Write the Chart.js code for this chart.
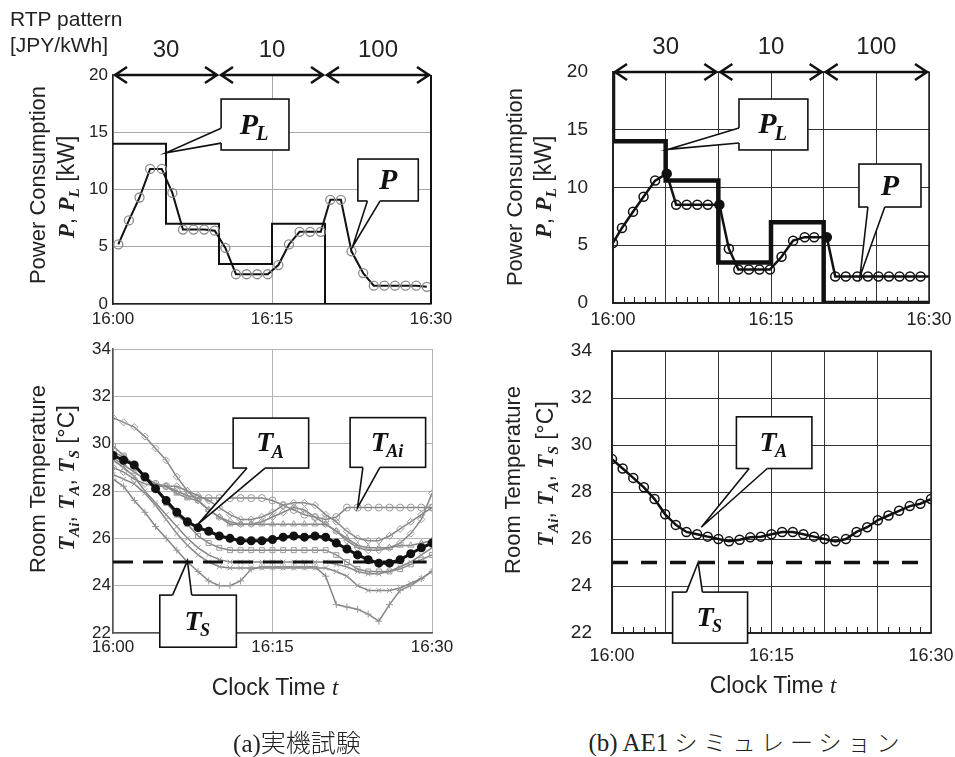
<!DOCTYPE html>
<html>
<head>
<meta charset="utf-8">
<script src="https://cdn.jsdelivr.net/npm/chart.js@4.4.1/dist/chart.umd.min.js"></script>
<style>
  body { margin: 0; background: #fff; }
  #fig { position: relative; width: 955px; height: 757px; overflow: hidden; font-family: "Liberation Sans", Arial, sans-serif; color: #222; }
  .box { position: absolute; }
  .txt { position: absolute; white-space: nowrap; line-height: 1; }
  .rot { transform: translate(-50%, -50%) rotate(-90deg); }
  .ctr { transform: translate(-50%, -50%); }
  .lft { transform: translateY(-50%); }
  .v { font-family: "Liberation Serif", serif; font-weight: bold; font-style: italic; }
  .v sub { font-size: 0.66em; vertical-align: -0.28em; }
  .it { font-family: "Liberation Serif", serif; font-style: italic; }
  .cap { font-family: "Liberation Serif", "Noto Sans CJK JP", serif; font-size: 25px; }
  .kana { font-family: "Noto Sans CJK JP", sans-serif; font-weight: 300; letter-spacing: 6px; font-size: 23px; }
</style>
</head>
<body>
<div id="fig">
  <div class="box" style="left:0;top:0;width:470px;height:335px"><canvas id="powerA" width="470" height="335"></canvas></div>
  <div class="box" style="left:480px;top:0;width:480px;height:340px"><canvas id="powerB" width="480" height="340"></canvas></div>
  <div class="box" style="left:0;top:330px;width:470px;height:345px"><canvas id="tempA" width="470" height="345"></canvas></div>
  <div class="box" style="left:480px;top:319px;width:486px;height:356px"><canvas id="tempB" width="486" height="356"></canvas></div>

  <div class="txt lft" style="left:10px;top:18px;font-size:21px">RTP pattern</div>
  <div class="txt lft" style="left:10px;top:44px;font-size:21px">[JPY/kWh]</div>

  <div class="txt rot" style="left:38px;top:185px;font-size:22px">Power Consumption</div>
  <div class="txt rot" style="left:68px;top:187px;font-size:23px"><span class="v">P</span>, <span class="v">P<sub>L</sub></span> [kW]</div>
  <div class="txt rot" style="left:515px;top:187px;font-size:22px">Power Consumption</div>
  <div class="txt rot" style="left:545px;top:187px;font-size:23px"><span class="v">P</span>, <span class="v">P<sub>L</sub></span> [kW]</div>

  <div class="txt rot" style="left:38px;top:479px;font-size:22px">Room Temperature</div>
  <div class="txt rot" style="left:68px;top:478px;font-size:23px"><span class="v">T<sub>Ai</sub></span>, <span class="v">T<sub>A</sub></span>, <span class="v">T<sub>S</sub></span> [°C]</div>
  <div class="txt rot" style="left:513px;top:480px;font-size:22px">Room Temperature</div>
  <div class="txt rot" style="left:547px;top:474px;font-size:23px"><span class="v">T<sub>Ai</sub></span>, <span class="v">T<sub>A</sub></span>, <span class="v">T<sub>S</sub></span> [°C]</div>

  <div class="txt ctr" style="left:275px;top:687px;font-size:23px">Clock Time <span class="it">t</span></div>
  <div class="txt ctr" style="left:773px;top:685px;font-size:23px">Clock Time <span class="it">t</span></div>

  <div class="txt ctr cap" style="left:297px;top:742px">(a)<span style="font-family:'Noto Sans CJK JP';font-weight:300">実機試験</span></div>
  <div class="txt ctr cap" style="left:747px;top:742px">(b) AE1 <span class="kana">シミュレーション</span></div>
</div>

<script>
// 横軸: 16:00 からの経過時間 [分]
const xTickValues = [0, 15, 30];
const xTickLabels = ['16:00', '16:15', '16:30'];
const minorTickMinutes = [1, 2, 3, 4, 6, 7, 8, 9, 11, 12, 13, 14, 16, 17, 18, 19, 21, 22, 23, 24, 26, 27, 28, 29];

// RTP 料金パターン [JPY/kWh]
const rtpBounds = [0, 10, 20, 30];
const rtpPrices = ['30', '10', '100'];

// (a) 実機試験 - 消費電力 P と上限 PL [kW]
const timeA_P = [0.5, 1.5, 2.5, 3.5, 4.6, 5.6, 6.6, 7.6, 8.6, 9.6, 10.6, 11.6, 12.6, 13.6, 14.6,
                 15.6, 16.6, 17.6, 18.6, 19.6, 20.5, 21.5, 22.5, 23.6, 24.6, 25.6, 26.6, 27.6, 28.6, 29.6];
const powerA = [5.2, 7.3, 9.3, 11.8, 11.8, 9.7, 6.5, 6.5, 6.5, 6.4, 4.9, 2.6, 2.6, 2.6, 2.6,
                3.4, 5.2, 6.3, 6.3, 6.3, 9.1, 9.1, 4.6, 2.7, 1.6, 1.6, 1.6, 1.6, 1.6, 1.5];
const timeA_PL = [0, 5, 10, 15, 20, 30];
const limitA = [14, 7, 3.5, 7, 0, 0];

// (b) シミュレーション - 消費電力 P と上限 PL [kW]
const timeB_P = [0, 0.85, 1.9, 2.9, 4, 5.1, 6, 7, 8, 9, 10.1, 11, 11.9, 12.9, 13.9, 14.9,
                 16, 17.1, 18.2, 19.1, 20.3, 21.1, 22.1, 23.2, 24.2, 25.2, 26.2, 27.2, 28.2, 29.2, 30];
const powerB = [5.2, 6.5, 7.9, 9.2, 10.6, 11.2, 8.5, 8.5, 8.5, 8.5, 8.5, 4.7, 2.9, 2.9, 2.9, 2.9,
                4.0, 5.4, 5.7, 5.7, 5.7, 2.3, 2.3, 2.3, 2.3, 2.3, 2.3, 2.3, 2.3, 2.3, 2.3];
const filledB = [5, 10, 20];
const timeB_PL = [0, 0, 5, 10, 15, 20, 30];
const limitB = [20, 14, 10.6, 3.5, 7, 0, 0];

// 室温 [°C] (1分ごと)
const minutes = [0, 1, 2, 3, 4, 5, 6, 7, 8, 9, 10, 11, 12, 13, 14, 15, 16, 17, 18, 19, 20,
                 21, 22, 23, 24, 25, 26, 27, 28, 29, 30];
const tempAvgA = [29.5, 29.3, 29.1, 28.6, 28.1, 27.6, 27.1, 26.7, 26.45, 26.3, 26.1, 26.0, 25.9, 25.9, 25.9, 25.95,
                  26.05, 26.1, 26.05, 26.1, 26.05, 25.8, 25.55, 25.3, 25.1, 24.95, 24.95, 25.1, 25.35, 25.6, 25.8];
const tempAvgB = [29.4, 29.0, 28.6, 28.2, 27.7, 27.05, 26.6, 26.3, 26.2, 26.1, 26.0, 25.9, 25.97, 26.07, 26.1, 26.2,
                  26.3, 26.3, 26.2, 26.1, 26.0, 25.9, 26.0, 26.3, 26.5, 26.8, 27.0, 27.2, 27.4, 27.5, 27.7];
const setTime = [0, 29.5];
const setTimeB = [0, 29];
const setTemp = [25, 25];

// 各室の室温 TAi (実機)
const room1 = [31.1, 30.9, 30.7, 30.3, 29.8, 29.3, 28.6, 28.0, 27.8, 27.6, 27.3, 27.0, 26.8, 26.8, 26.9, 27.1,
               27.4, 27.5, 27.5, 27.4, 27.0, 26.7, 26.3, 26.0, 25.9, 25.9, 26.1, 26.4, 26.7, 27.0, 27.3];
const room2 = [29.7, 29.4, 29.0, 28.6, 28.3, 28.2, 28.0, 27.8, 27.7, 27.7, 27.7, 27.7, 27.7, 27.7, 27.7, 27.6,
               27.4, 27.2, 27.0, 26.9, 26.8, 26.9, 27.3, 27.3, 27.3, 27.3, 27.3, 27.3, 27.3, 27.3, 27.3];
const room3 = [29.4, 29.1, 28.8, 28.5, 28.3, 28.2, 27.9, 27.7, 27.6, 27.2, 26.9, 26.6, 26.6, 26.6, 26.6, 26.6,
               26.6, 26.6, 26.6, 26.6, 26.6, 26.3, 26.0, 25.7, 25.6, 25.6, 25.6, 25.7, 25.7, 25.8, 25.9];
const room4 = [29.9, 29.5, 29.1, 28.6, 28.1, 27.5, 27.0, 26.6, 26.1, 25.8, 25.6, 25.5, 25.5, 25.5, 25.5, 25.5,
               25.5, 25.5, 25.5, 25.5, 25.5, 25.3, 25.0, 24.7, 24.6, 24.6, 24.6, 24.7, 24.9, 25.1, 25.3];
const room5 = [28.7, 28.5, 28.3, 27.9, 27.4, 26.8, 26.2, 25.7, 25.3, 25.0, 24.8, 24.75, 24.75, 24.75, 24.75, 24.75,
               24.75, 24.75, 24.75, 24.75, 24.75, 24.6, 24.4, 24.0, 23.8, 23.8, 23.8, 23.9, 24.1, 24.3, 24.6];
const room6 = [28.5, 28.2, 27.6, 27.1, 26.5, 26.0, 25.5, 25.0, 24.6, 24.2, 24.0, 24.0, 24.2, 24.7, 24.8, 24.8,
               24.8, 24.8, 24.8, 24.8, 24.4, 23.2, 23.1, 23.0, 22.8, 22.5, 23.2, 23.8, 24.0, 24.3, 24.6];
const room7 = [29.0, 28.8, 28.5, 28.3, 28.2, 28.2, 28.2, 28.0, 27.6, 27.2, 26.9, 26.7, 26.6, 26.6, 26.7, 26.9,
               27.1, 27.3, 27.2, 26.9, 26.6, 26.3, 25.9, 25.6, 25.5, 25.5, 25.6, 25.8, 26.2, 26.8, 27.9];
const room8 = [29.3, 29.0, 28.6, 28.0, 27.5, 27.0, 26.5, 26.0, 25.6, 25.3, 25.1, 25.0, 25.0, 25.0, 25.0, 25.0,
               25.0, 25.0, 25.0, 25.0, 25.0, 24.9, 24.8, 24.6, 24.5, 24.5, 24.6, 24.8, 25.0, 25.3, 25.6];
const roomSeries = [room1, room2, room3, room4, room5, room6, room7, room8];
const roomMarkers = ['rectRot', 'circle', 'triangle', 'rect', 'crossRot', 'cross', 'rectRot', 'crossRot'];

Chart.defaults.font.family = '"Liberation Sans", Arial, sans-serif';
Chart.defaults.color = '#222';

function pts(xs, ys) {
    return xs.map((x, i) => ({ x: x, y: ys[i] }));
}

function timeLabel(v) {
    const i = xTickValues.indexOf(v);
    return i >= 0 ? xTickLabels[i] : '';
}

function drawCallout(ctx, xs, ys, c, size) {
    const px = v => xs.getPixelForValue(v);
    const py = v => ys.getPixelForValue(v);
    const L = px(c.box[0]), R = px(c.box[1]), T = py(c.box[2]), B = py(c.box[3]);
    const b1 = [px(c.base[0][0]), py(c.base[0][1])];
    const b2 = [px(c.base[1][0]), py(c.base[1][1])];
    const tip = [px(c.tip[0]), py(c.tip[1])];

    ctx.lineWidth = 1.6;
    ctx.strokeStyle = '#111';
    ctx.fillStyle = '#fff';
    ctx.fillRect(L, T, R - L, B - T);
    ctx.strokeRect(L, T, R - L, B - T);

    ctx.beginPath();
    ctx.moveTo(b1[0], b1[1]);
    ctx.lineTo(tip[0], tip[1]);
    ctx.lineTo(b2[0], b2[1]);
    ctx.closePath();
    ctx.fill();
    ctx.save();
    ctx.strokeStyle = '#fff';
    ctx.lineWidth = 3;
    ctx.beginPath();
    ctx.moveTo(b1[0], b1[1]);
    ctx.lineTo(b2[0], b2[1]);
    ctx.stroke();
    ctx.restore();
    ctx.beginPath();
    ctx.moveTo(b1[0], b1[1]);
    ctx.lineTo(tip[0], tip[1]);
    ctx.lineTo(b2[0], b2[1]);
    ctx.stroke();

    const mainFont = 'italic bold ' + size + 'px "Liberation Serif"';
    const subFont = 'italic bold ' + Math.round(size * 0.66) + 'px "Liberation Serif"';
    ctx.font = mainFont;
    const w1 = ctx.measureText(c.label).width;
    ctx.font = subFont;
    const w2 = c.sub ? ctx.measureText(c.sub).width : 0;
    const x0 = (L + R) / 2 - (w1 + w2) / 2;
    const base = (T + B) / 2 + size * 0.3;
    ctx.fillStyle = '#111';
    ctx.textAlign = 'left';
    ctx.textBaseline = 'alphabetic';
    ctx.font = mainFont;
    ctx.fillText(c.label, x0, base);
    if (c.sub) {
        ctx.font = subFont;
        ctx.fillText(c.sub, x0 + w1 - size * 0.06, base + size * 0.22);
    }
}

const extras = {
    id: 'extras',
    afterDatasetsDraw(chart, args, opts) {
        const ctx = chart.ctx;
        const xs = chart.scales.x, ys = chart.scales.y;
        const area = chart.chartArea;
        ctx.save();
        if (opts.minorTicks) {
            ctx.strokeStyle = '#222';
            ctx.lineWidth = 1;
            ctx.beginPath();
            minorTickMinutes.forEach(m => {
                const x = Math.round(xs.getPixelForValue(m)) + 0.5;
                ctx.moveTo(x, area.bottom);
                ctx.lineTo(x, area.bottom - 6);
            });
            ctx.stroke();
        }
        if (opts.frame) {
            ctx.strokeStyle = opts.frame;
            ctx.lineWidth = 1.5;
            ctx.strokeRect(area.left, area.top, area.right - area.left, area.bottom - area.top);
        }
        if (opts.frameRight) {
            ctx.strokeStyle = '#111';
            ctx.lineWidth = 2;
            ctx.beginPath();
            ctx.moveTo(area.right, area.top);
            ctx.lineTo(area.right, area.bottom);
            ctx.stroke();
        }
        if (opts.rtp) {
            const y = ys.getPixelForValue(ys.max);
            ctx.strokeStyle = '#111';
            ctx.fillStyle = '#222';
            ctx.lineWidth = 2.5;
            ctx.font = '24px "Liberation Sans"';
            ctx.textAlign = 'center';
            ctx.textBaseline = 'middle';
            for (let i = 0; i < rtpPrices.length; i++) {
                const x0 = xs.getPixelForValue(rtpBounds[i]);
                const x1 = xs.getPixelForValue(rtpBounds[i + 1]);
                ctx.beginPath();
                ctx.moveTo(x0 + 1, y);
                ctx.lineTo(x1 - 1, y);
                ctx.moveTo(x0 + 14, y - 8);
                ctx.lineTo(x0 + 2, y);
                ctx.lineTo(x0 + 14, y + 8);
                ctx.moveTo(x1 - 14, y - 8);
                ctx.lineTo(x1 - 2, y);
                ctx.lineTo(x1 - 14, y + 8);
                ctx.stroke();
                ctx.fillText(rtpPrices[i], (x0 + x1) / 2, y - 25);
            }
        }
        (opts.callouts || []).forEach(c => drawCallout(ctx, xs, ys, c, opts.calloutSize || 30));
        ctx.restore();
    }
};

function baseOptions(cfg) {
    return {
        responsive: false,
        animation: false,
        events: [],
        layout: { padding: cfg.padding },
        plugins: {
            legend: { display: false },
            tooltip: { enabled: false },
            extras: cfg.extras
        },
        scales: {
            x: {
                type: 'linear', min: 0, max: 30,
                afterFit: s => { s.height = cfg.xHeight; },
                ticks: {
                    stepSize: cfg.xStep, autoSkip: false, maxRotation: 0,
                    callback: timeLabel,
                    font: { size: cfg.xFont }, color: '#222', padding: cfg.xPad
                },
                grid: { color: cfg.grid, lineWidth: 1, drawTicks: false },
                border: { display: true, color: cfg.axis, width: 1.5 }
            },
            y: {
                min: cfg.yMin, max: cfg.yMax,
                afterFit: s => { s.width = cfg.yWidth; },
                ticks: {
                    stepSize: cfg.yStep,
                    font: { size: cfg.yFont }, color: '#222', padding: cfg.yPad
                },
                grid: { color: cfg.grid, lineWidth: 1, drawTicks: false },
                border: { display: true, color: cfg.axis, width: 1.5 }
            }
        }
    };
}

// (a) 消費電力
new Chart(document.getElementById('powerA'), {
    type: 'line',
    data: {
        datasets: [
            {
                data: pts(timeA_P, powerA), borderColor: '#111', borderWidth: 2,
                pointRadius: 4.5, pointBorderColor: '#8a8a8a', pointBorderWidth: 1.3,
                pointBackgroundColor: 'rgba(255,255,255,0)'
            },
            { data: pts(timeA_PL, limitA), stepped: true, borderColor: '#111', borderWidth: 2, pointRadius: 0 }
        ]
    },
    options: baseOptions({
        padding: { top: 75, right: 39, left: 0, bottom: 0 },
        xHeight: 31, yWidth: 113, xStep: 15, yStep: 5, yMin: 0, yMax: 20,
        xFont: 17, yFont: 17, xPad: 5, yPad: 5, grid: '#a8a8a8', axis: '#222',
        extras: {
            rtp: true, frameRight: true, calloutSize: 30,
            callouts: [
                { label: 'P', sub: 'L', box: [10.2, 16.6, 17.9, 13.45], base: [[10.2, 15.35], [10.2, 14.05]], tip: [5.0, 13.2] },
                { label: 'P', box: [23.1, 28.8, 12.66, 9.0], base: [[24.0, 9.0], [25.2, 9.0]], tip: [22.6, 5.0] }
            ]
        }
    }),
    plugins: [extras]
});

// (b) 消費電力
new Chart(document.getElementById('powerB'), {
    type: 'line',
    data: {
        datasets: [
            {
                data: pts(timeB_P, powerB), borderColor: '#111', borderWidth: 2.5,
                pointRadius: ctx => ctx.dataIndex === timeB_P.length - 1 ? 0 : 4.5,
                pointBorderColor: '#111', pointBorderWidth: 1.5,
                pointBackgroundColor: ctx => filledB.includes(ctx.dataIndex) ? '#111' : 'rgba(255,255,255,0)'
            },
            { data: pts(timeB_PL, limitB), stepped: true, borderColor: '#111', borderWidth: 4.5, pointRadius: 0 }
        ]
    },
    options: baseOptions({
        padding: { top: 72, right: 31, left: 0, bottom: 0 },
        xHeight: 37, yWidth: 133, xStep: 5, yStep: 5, yMin: 0, yMax: 20,
        xFont: 18, yFont: 19, xPad: 6, yPad: 25, grid: '#333', axis: '#222',
        extras: {
            rtp: true, minorTicks: true, frame: '#222', calloutSize: 30,
            callouts: [
                { label: 'P', sub: 'L', box: [11.96, 18.5, 17.66, 13.25], base: [[11.96, 15.15], [11.96, 13.85]], tip: [5.2, 13.3] },
                { label: 'P', box: [23.35, 29.24, 12.03, 8.31], base: [[24.2, 8.31], [25.8, 8.31]], tip: [23.45, 2.3] }
            ]
        }
    }),
    plugins: [extras]
});

// (a) 室温
const roomDatasets = roomSeries.map((vals, i) => ({
    data: pts(minutes, vals), borderColor: '#858585', borderWidth: 1.5,
    pointStyle: roomMarkers[i], pointRadius: 3.5, pointBorderColor: '#9a9a9a',
    pointBorderWidth: 1, pointBackgroundColor: 'rgba(255,255,255,0)'
}));

new Chart(document.getElementById('tempA'), {
    type: 'line',
    data: {
        datasets: [
            {
                data: pts(minutes, tempAvgA), borderColor: '#111', borderWidth: 3,
                pointRadius: 3, pointBackgroundColor: '#111', pointBorderColor: '#111'
            },
            { data: pts(setTime, setTemp), borderColor: '#111', borderWidth: 3, borderDash: [20, 10], pointRadius: 0 }
        ].concat(roomDatasets)
    },
    options: baseOptions({
        padding: { top: 19, right: 38, left: 0, bottom: 0 },
        xHeight: 42, yWidth: 113, xStep: 15, yStep: 2, yMin: 22, yMax: 34,
        xFont: 17, yFont: 17, xPad: 4, yPad: 2, grid: '#b4b4b4', axis: '#555',
        extras: {
            calloutSize: 28,
            callouts: [
                { label: 'T', sub: 'A', box: [11.3, 18.4, 31.08, 28.97], base: [[12.6, 28.97], [14.3, 28.97]], tip: [8.0, 26.6] },
                { label: 'T', sub: 'Ai', box: [22.3, 29.4, 31.1, 29.0], base: [[23.5, 29.0], [25.1, 29.0]], tip: [23.0, 27.3] },
                { label: 'T', sub: 'S', box: [4.4, 11.6, 23.6, 21.4], base: [[5.6, 23.6], [7.4, 23.6]], tip: [7.0, 25.05] }
            ]
        }
    }),
    plugins: [extras]
});

// (b) 室温
new Chart(document.getElementById('tempB'), {
    type: 'line',
    data: {
        datasets: [
            {
                data: pts(minutes, tempAvgB), borderColor: '#111', borderWidth: 2.5,
                pointRadius: 4.5, pointBorderColor: '#111', pointBorderWidth: 1.5,
                pointBackgroundColor: 'rgba(255,255,255,0)'
            },
            { data: pts(setTimeB, setTemp), borderColor: '#111', borderWidth: 3.5, borderDash: [16, 13], pointRadius: 0 }
        ]
    },
    options: baseOptions({
        padding: { top: 32, right: 35, left: 0, bottom: 0 },
        xHeight: 42, yWidth: 132, xStep: 5, yStep: 2, yMin: 22, yMax: 34,
        xFont: 18, yFont: 19, xPad: 12, yPad: 20, grid: '#333', axis: '#222',
        extras: {
            minorTicks: true, frame: '#222', calloutSize: 28,
            callouts: [
                { label: 'T', sub: 'A', box: [11.7, 18.8, 31.2, 29.0], base: [[12.9, 29.0], [14.6, 29.0]], tip: [8.4, 26.5] },
                { label: 'T', sub: 'S', box: [5.7, 12.75, 23.74, 21.57], base: [[7.0, 23.74], [8.5, 23.74]], tip: [8.1, 25.0] }
            ]
        }
    }),
    plugins: [extras]
});
</script>
</body>
</html>
